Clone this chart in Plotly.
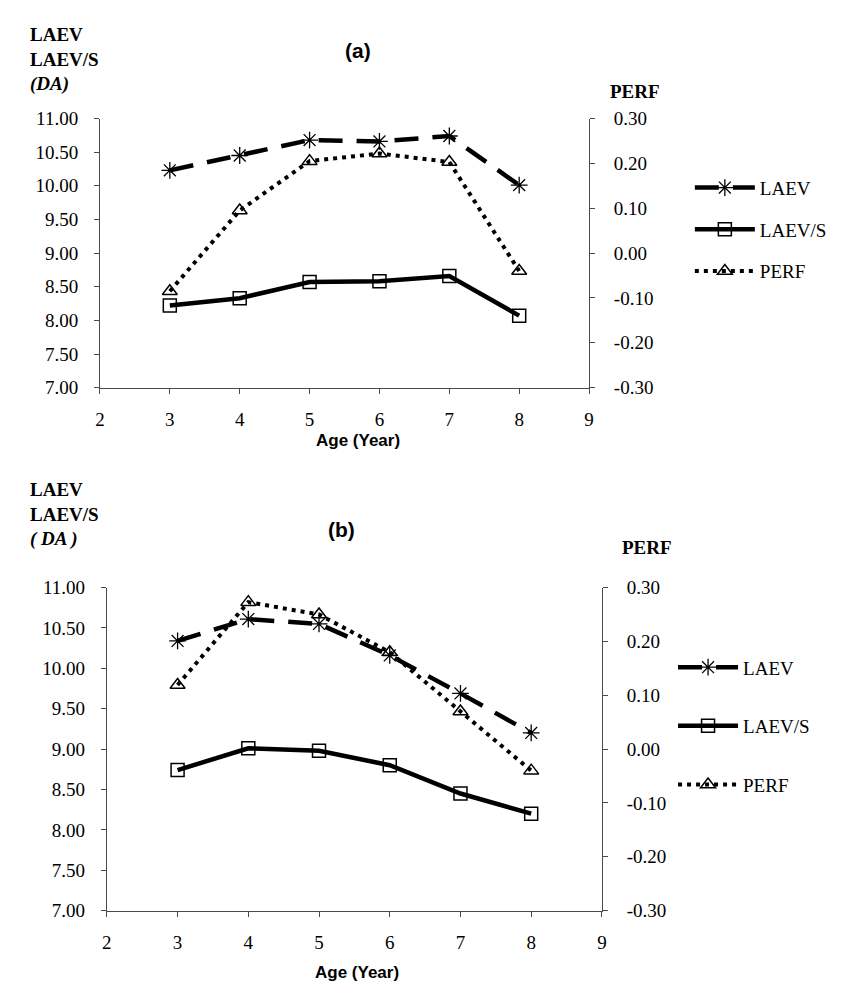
import plotly.graph_objects as go

W, H = 841, 987

ages = [3, 4, 5, 6, 7, 8]

# Panel (a)
laev_a = [10.23, 10.45, 10.68, 10.66, 10.74, 10.01]
laevs_a = [8.22, 8.33, 8.57, 8.58, 8.66, 8.07]
perf_a = [-0.085, 0.095, 0.205, 0.222, 0.203, -0.040]

# Panel (b)
laev_b = [10.34, 10.61, 10.55, 10.16, 9.69, 9.20]
laevs_b = [8.74, 9.01, 8.98, 8.80, 8.45, 8.20]
perf_b = [0.119, 0.273, 0.250, 0.180, 0.070, -0.040]

x_ticks = [2, 3, 4, 5, 6, 7, 8, 9]
left_ticks = [7.0, 7.5, 8.0, 8.5, 9.0, 9.5, 10.0, 10.5, 11.0]
left_ticktext = ["7.00", "7.50", "8.00", "8.50", "9.00", "9.50", "10.00", "10.50", "11.00"]
right_ticks = [-0.3, -0.2, -0.1, 0.0, 0.1, 0.2, 0.3]
right_ticktext = ["-0.30", "-0.20", "-0.10", "0.00", "0.10", "0.20", "0.30"]

SERIF = "Liberation Serif"
SANS = "Liberation Sans"
AX = "#4a4a4a"


def px(x):
    return x / W


def py(y):
    return 1 - y / H


def add_panel(fig, xa, ya, ya2, laev, laevs, perf, legend):
    fig.add_trace(go.Scatter(
        x=ages, y=laev, name="LAEV", xaxis=xa, yaxis=ya, mode="lines+markers",
        line=dict(color="black", width=4.5, dash="24px,14px"),
        marker=dict(symbol="asterisk-open", size=14, color="black",
                    line=dict(color="black", width=1.3)),
        legend=legend, legendgroup=legend + "1"))
    fig.add_trace(go.Scatter(
        x=ages, y=laevs, name="LAEV/S", xaxis=xa, yaxis=ya, mode="lines+markers",
        line=dict(color="black", width=4.5),
        marker=dict(symbol="square-open", size=13, color="black",
                    line=dict(color="black", width=1.5)),
        legend=legend, legendgroup=legend + "2"))
    fig.add_trace(go.Scatter(
        x=ages, y=perf, name="PERF", xaxis=xa, yaxis=ya2, mode="lines+markers",
        line=dict(color="black", width=4, dash="4px,5px"),
        marker=dict(symbol="triangle-up-open", size=13, color="black",
                    line=dict(color="black", width=1.5)),
        legend=legend, legendgroup=legend + "3"))


fig = go.Figure()
add_panel(fig, "x", "y", "y2", laev_a, laevs_a, perf_a, "legend")
add_panel(fig, "x2", "y3", "y4", laev_b, laevs_b, perf_b, "legend2")

tickfont = dict(family=SERIF, size=19, color="black")

xcommon = dict(range=[2, 9], tickvals=x_ticks, showline=True, linecolor=AX, linewidth=1,
               ticks="outside", ticklen=5, tickcolor=AX, showgrid=False, zeroline=False,
               tickfont=tickfont, ticklabelstandoff=10)
ylcommon = dict(range=[7, 11], tickvals=left_ticks, ticktext=left_ticktext, showline=True,
                linecolor=AX, linewidth=1, ticks="outside", ticklen=5, tickcolor=AX,
                showgrid=False, zeroline=False, tickfont=tickfont, ticklabelstandoff=12)
yrcommon = dict(range=[-0.3, 0.3], tickvals=right_ticks, ticktext=right_ticktext, showline=True,
                linecolor=AX, linewidth=1, ticks="outside", ticklen=5, tickcolor=AX,
                showgrid=False, zeroline=False, tickfont=tickfont, ticklabelstandoff=15,
                side="right")

top_x = [px(88), px(583)]
top_y = [py(377.7), py(102.7)]
bot_x = [px(95), px(596)]
bot_y = [py(912), py(582)]

legfont = dict(family=SERIF, size=19, color="black")

fig.update_layout(
    width=W, height=H, autosize=False,
    margin=dict(l=0, r=0, t=0, b=0),
    paper_bgcolor="white", plot_bgcolor="white",
    xaxis=dict(domain=top_x, anchor="y", **xcommon),
    yaxis=dict(domain=top_y, anchor="x", **ylcommon),
    yaxis2=dict(overlaying="y", anchor="x", **yrcommon),
    xaxis2=dict(domain=bot_x, anchor="y3", **xcommon),
    yaxis3=dict(domain=bot_y, anchor="x2", **ylcommon),
    yaxis4=dict(overlaying="y3", anchor="x2", **yrcommon),
    legend=dict(x=px(685), y=py(154), xanchor="left", yanchor="top", font=legfont,
                bgcolor="rgba(0,0,0,0)", itemwidth=60, tracegroupgap=14),
    legend2=dict(x=px(668), y=py(644), xanchor="left", yanchor="top", font=legfont,
                 bgcolor="rgba(0,0,0,0)", itemwidth=60, tracegroupgap=31),
    showlegend=True,
)

ann_font_title = dict(family=SERIF, size=19, color="black")
annotations = [
    dict(text="<b>LAEV<br>LAEV/S<br><i>(DA)</i></b>", x=px(15), y=py(4), xanchor="left",
         yanchor="top", align="left", font=ann_font_title),
    dict(text="<b>(a)</b>", x=px(349), y=py(33), xanchor="center", yanchor="middle",
         font=dict(family=SANS, size=21, color="black")),
    dict(text="<b>PERF</b>", x=px(629), y=py(75), xanchor="center", yanchor="middle",
         font=ann_font_title),
    dict(text="<b>Age (Year)</b>", x=px(349), y=py(432), xanchor="center", yanchor="middle",
         font=dict(family=SANS, size=17, color="black")),
    dict(text="<b>LAEV<br>LAEV/S<br><i>( DA )</i></b>", x=px(15), y=py(469), xanchor="left",
         yanchor="top", align="left", font=ann_font_title),
    dict(text="<b>(b)</b>", x=px(332), y=py(523), xanchor="center", yanchor="middle",
         font=dict(family=SANS, size=21, color="black")),
    dict(text="<b>PERF</b>", x=px(642), y=py(541), xanchor="center", yanchor="middle",
         font=ann_font_title),
    dict(text="<b>Age (Year)</b>", x=px(348), y=py(975), xanchor="center", yanchor="middle",
         font=dict(family=SANS, size=17, color="black")),
]
for a in annotations:
    a.update(xref="paper", yref="paper", showarrow=False)
fig.update_layout(annotations=annotations)

fig.write_html("out.html")
